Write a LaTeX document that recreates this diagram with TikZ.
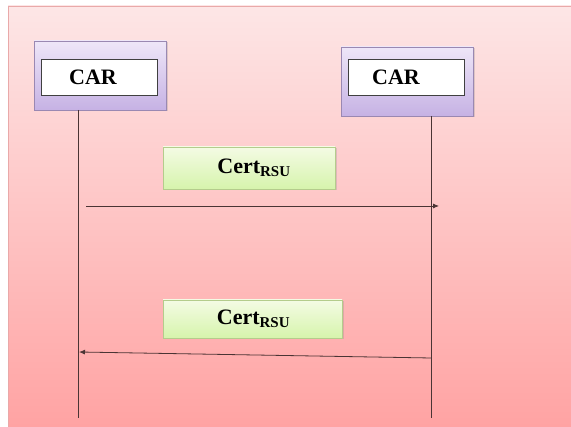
\documentclass[tikz,border=0pt]{standalone}
\usepackage{fontspec}
\setmainfont{Liberation Serif}
\usetikzlibrary{arrows.meta,shadows}
\definecolor{bgtop}{HTML}{FDE6E6}
\definecolor{bgbot}{HTML}{FFA3A3}
\definecolor{bgline}{HTML}{E9A9A9}
\definecolor{purtop}{HTML}{EEE6F8}
\definecolor{purbot}{HTML}{C6B2E4}
\definecolor{purline}{HTML}{9A88B2}
\definecolor{grntop}{HTML}{F4FBE4}
\definecolor{grnbot}{HTML}{D6F4AC}
\definecolor{grnline}{HTML}{B4CC8C}
\definecolor{lineclr}{HTML}{4A3434}
\tikzset{
  outerbox/.style={draw=purline, line width=0.8pt, top color=purtop, bottom color=purbot,
    minimum width=132pt, minimum height=69pt, inner sep=0pt,
    drop shadow={shadow xshift=1.5pt, shadow yshift=-1.5pt, opacity=0.25}},
  innerbox/.style={draw=black!75, line width=0.7pt, fill=white, minimum width=116pt,
    minimum height=36pt, inner sep=0pt, font=\fontsize{22}{24}\selectfont\bfseries},
  certbox/.style={draw=grnline, line width=0.8pt, top color=grntop, bottom color=grnbot,
    inner sep=0pt, font=\fontsize{22}{24}\selectfont\bfseries,
    drop shadow={shadow xshift=1.5pt, shadow yshift=-1.5pt, opacity=0.25}},
  lifeline/.style={draw=lineclr, line width=0.8pt},
  msg/.style={draw=lineclr, line width=0.8pt, -{Latex[length=6pt,width=5pt]}}
}
\newcommand{\certtext}{Cert\textsubscript{\fontsize{15}{17}\selectfont RSU}}
\begin{document}
\begin{tikzpicture}[x=1pt,y=1pt]
\useasboundingbox (0,0) rectangle (571,427);
\shade[top color=bgtop, bottom color=bgbot] (8,0) rectangle (571,421);
\draw[bgline, line width=0.6pt] (8,0) -- (8,421) -- (571,421);
% left car
\node[outerbox] (car1) at (100,351.5) {};
\node[innerbox] (car1in) at (99,350) {\hspace*{-12pt}CAR};
% right car
\node[outerbox] (car2) at (407,345.5) {};
\node[innerbox] (car2in) at (406,350) {\hspace*{-20pt}CAR};
% lifelines
\coordinate (l1top) at (78,317);
\coordinate (l1bot) at (78,9);
\coordinate (l2top) at (431,311);
\coordinate (l2bot) at (431,9);
\draw[lifeline] (l1top) -- (l1bot);
\draw[lifeline] (l2top) -- (l2bot);
% cert boxes
\node[certbox, minimum width=172pt, minimum height=42pt] (cert1) at (249,259) {\hspace*{10pt}\certtext};
\node[certbox, minimum width=179pt, minimum height=38pt] (cert2) at (252.5,108) {\hspace*{2pt}\certtext};
% messages
\coordinate (m1s) at (86,221);
\coordinate (m1e) at (439,221);
\coordinate (m2s) at (431,69);
\coordinate (m2e) at (79,75);
\draw[msg] (m1s) -- (m1e);
\draw[msg] (m2s) -- (m2e);
\end{tikzpicture}
\end{document}
